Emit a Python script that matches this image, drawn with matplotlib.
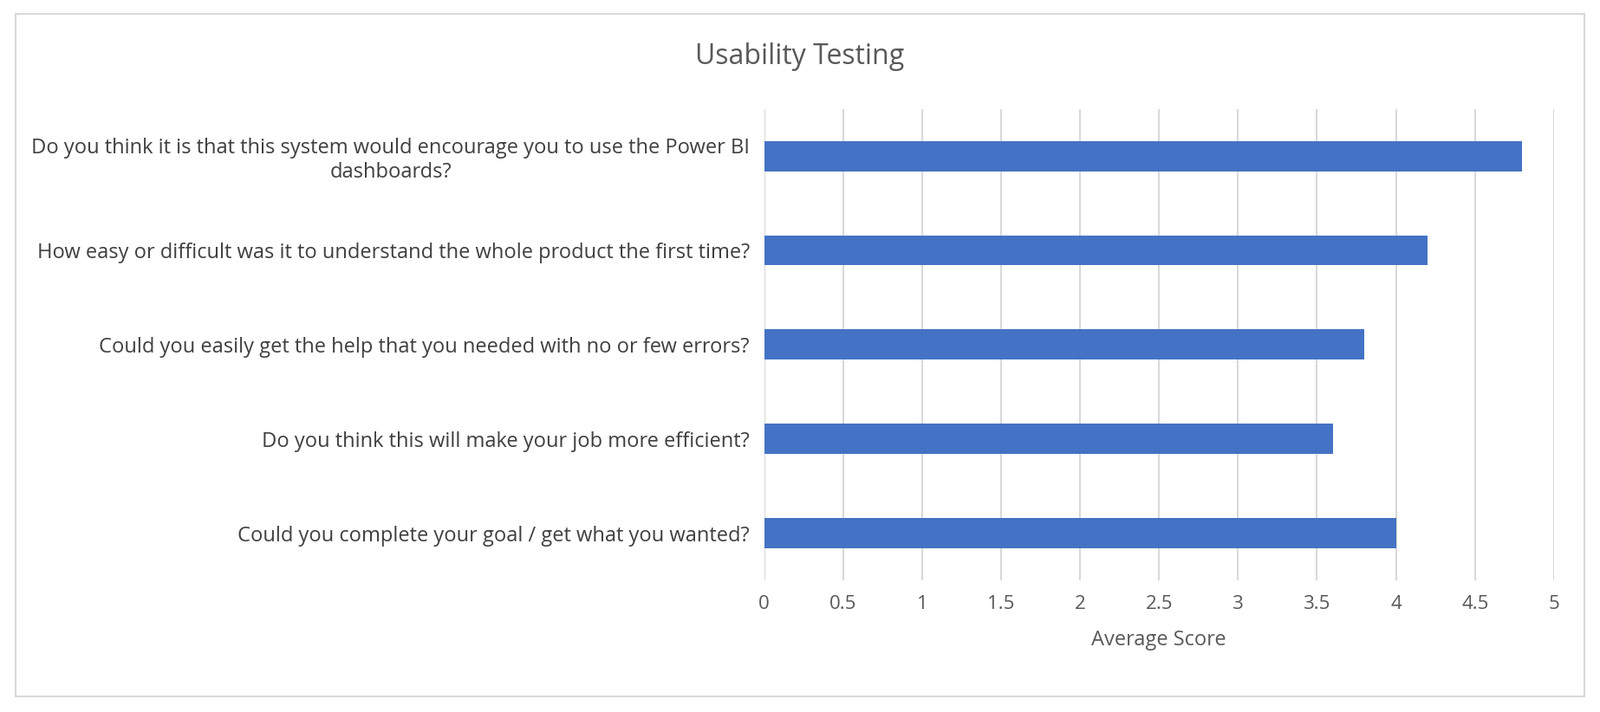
import matplotlib
matplotlib.use("Agg")
import matplotlib.pyplot as plt
from matplotlib.patches import Rectangle

categories = [
    "Do you think it is that this system would encourage you to use the Power BI\ndashboards?",
    "How easy or difficult was it to understand the whole product the first time?",
    "Could you easily get the help that you needed with no or few errors?",
    "Do you think this will make your job more efficient?",
    "Could you complete your goal / get what you wanted?",
]
values = [4.8, 4.2, 3.8, 3.6, 4.0]
xticks = [0, 0.5, 1, 1.5, 2, 2.5, 3, 3.5, 4, 4.5, 5]
xticklabels = ["0", "0.5", "1", "1.5", "2", "2.5", "3", "3.5", "4", "4.5", "5"]

plt.rcParams["font.family"] = "Open Sans"
fig = plt.figure(figsize=(18.46, 8.22), dpi=100)
fig.patches.append(Rectangle((0.01, 0.022), 0.98, 0.958, transform=fig.transFigure,
                             fill=False, edgecolor="#d9d9d9", linewidth=1.5))
ax = fig.add_axes([0.4776, 0.185, 0.4936, 0.662])
y = list(range(len(categories)))[::-1]
ax.barh(y, values, height=0.32, color="#4472C4", zorder=3)
ax.set_xlim(0, 5)
ax.set_ylim(-0.5, len(categories) - 0.5)
ax.set_xticks(xticks)
ax.set_xticklabels(xticklabels, fontsize=16, color="#595959")
ax.set_yticks(y)
ax.set_yticklabels(categories, fontsize=17, color="#404040", multialignment="center")
ax.grid(axis="x", color="#d9d9d9", linewidth=1.5, zorder=0)
for s in ax.spines.values():
    s.set_visible(False)
ax.tick_params(length=0, pad=12)
ax.set_xlabel("Average Score", fontsize=17, color="#595959", labelpad=14)
fig.text(0.5, 0.92, "Usability Testing", ha="center", va="center", fontsize=23, color="#595959")
fig.savefig("out.png", dpi=100)
